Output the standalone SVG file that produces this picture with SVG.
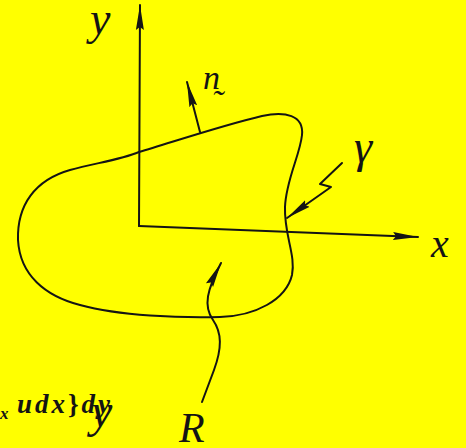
<svg xmlns="http://www.w3.org/2000/svg" width="466" height="448" viewBox="0 0 466 448">
<style>
.ln{fill:none;stroke:#141414;stroke-width:2;stroke-linecap:round;stroke-linejoin:round}
.ar{marker-end:url(#ah)}
.lb{font-family:"Liberation Serif","DejaVu Serif",serif;font-style:italic;fill:#141414}
</style>
<defs>
<marker id="ah" markerUnits="userSpaceOnUse" markerWidth="28" markerHeight="12" refX="25" refY="5" orient="auto">
<path d="M0,1 L25,5 L0,9 L3,5 z" fill="#141414"/>
</marker>
</defs>
<rect width="466" height="448" fill="#ffff00"/>
<g id="region">
<path class="ln" d="M139,152 C170,143 220,126 262,116 C285,111 304,115 302,135 C300,155 286,180 285,207 C284,235 296,255 292,275 C286,300 255,316 220,317 C180,318 120,316 80,305 C45,296 20,275 18,240 C17,205 35,180 70,170 C95,163 120,160 139,152 Z"/>
</g>
<g id="connectors">
<path id="y-axis" class="ln ar" d="M139,226 L140,5"/>
<path id="x-axis" class="ln ar" d="M139,226 L418,237"/>
<path id="normal" class="ln ar" d="M200,132 L187,82"/>
<path id="gamma-leader" class="ln ar" d="M342,163 L320,184 L331,187 L287,218"/>
<path id="R-leader" class="ln ar" d="M202,402 L214,370 C222,348 222,333 213,320 C203,306 207,290 221,263"/>
</g>
<g id="label-y"><text class="lb" x="90" y="34" font-size="46">y</text></g>
<g id="label-n"><text class="lb" x="203" y="89" font-size="34">n̰</text></g>
<g id="label-gamma"><text class="lb" x="354" y="162" font-size="46">γ</text></g>
<g id="label-x"><text class="lb" x="431" y="257" font-size="40">x</text></g>
<g id="label-R"><text class="lb" x="179" y="442" font-size="42">R</text></g>
<g id="formula">
<text class="lb" x="0" y="419" font-size="17" font-weight="bold">x</text>
<text class="lb" x="17" y="413" font-size="27" font-weight="bold" textLength="93" lengthAdjust="spacing">udx<tspan font-style="normal">}</tspan>dy</text>
<text class="lb" x="91" y="427" font-size="48">y</text>
</g>
</svg>
